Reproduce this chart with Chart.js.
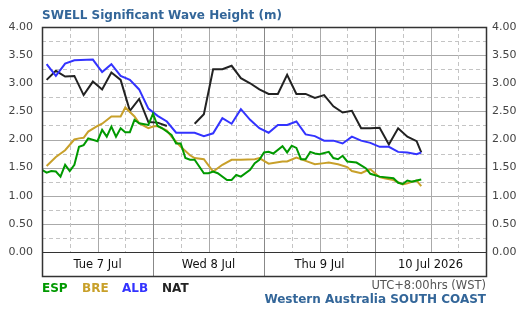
<!DOCTYPE html>
<html>
<head>
<meta charset="utf-8">
<script src="https://cdn.jsdelivr.net/npm/chart.js@4"></script>
<style>
  html, body { margin: 0; padding: 0; background: #fff; }
  #wrap { width: 521px; height: 315px; }
</style>
</head>
<body>
<div id="wrap"><canvas id="chart" width="521" height="315"></canvas></div>
<script>
'use strict';

// hours since Tue 7 Jul 00:00 (WST)
const dayLabels = ['Tue 7 Jul', 'Wed 8 Jul', 'Thu 9 Jul', '10 Jul 2026'];
const yTicks = [0, 0.5, 1, 1.5, 2, 2.5, 3, 3.5, 4];

const espHours = [0, 1, 2, 3, 4, 5, 6, 7, 8, 9, 10, 12, 13, 14, 15, 16, 17, 18, 19, 20, 21, 23, 24, 25, 26, 28, 29, 30, 31, 32, 33, 35, 36, 37, 38, 40, 41, 42, 43, 45, 46, 47, 48, 49, 50, 52, 53, 54, 55, 56, 57, 58, 59, 60, 62, 63, 64, 65, 66, 68, 70, 71, 73, 76, 77, 78, 79, 80, 81, 82];
const espValues = [1.46, 1.41, 1.44, 1.43, 1.34, 1.55, 1.44, 1.55, 1.87, 1.90, 2.02, 1.97, 2.17, 2.05, 2.23, 2.05, 2.20, 2.13, 2.13, 2.35, 2.29, 2.26, 2.46, 2.24, 2.20, 2.08, 1.93, 1.93, 1.67, 1.64, 1.64, 1.40, 1.40, 1.43, 1.40, 1.28, 1.28, 1.37, 1.34, 1.46, 1.58, 1.64, 1.77, 1.78, 1.75, 1.88, 1.77, 1.89, 1.85, 1.65, 1.65, 1.78, 1.75, 1.74, 1.78, 1.67, 1.65, 1.71, 1.61, 1.59, 1.49, 1.39, 1.34, 1.31, 1.23, 1.21, 1.27, 1.25, 1.27, 1.29];

const breHours = [1, 3, 5, 7, 8, 9, 10, 12, 13, 15, 17, 18, 20, 21, 23, 24, 25, 27, 28, 30, 32, 33, 35, 37, 39, 41, 43, 46, 47, 48, 49, 52, 53, 55, 57, 59, 61, 62, 64, 66, 67, 69, 70, 71, 72, 73, 74, 76, 78, 79, 80, 81, 82];
const breValues = [1.53, 1.69, 1.81, 2.00, 2.02, 2.03, 2.14, 2.24, 2.28, 2.41, 2.41, 2.57, 2.41, 2.29, 2.20, 2.23, 2.24, 2.16, 2.05, 1.87, 1.72, 1.67, 1.65, 1.43, 1.55, 1.64, 1.64, 1.65, 1.67, 1.62, 1.57, 1.61, 1.61, 1.68, 1.62, 1.56, 1.58, 1.59, 1.56, 1.51, 1.44, 1.40, 1.44, 1.47, 1.40, 1.33, 1.31, 1.28, 1.20, 1.22, 1.25, 1.27, 1.17];

const albHours = [1, 3, 5, 7, 11, 13, 15, 17, 19, 21, 23, 25, 27, 29, 33, 35, 37, 39, 41, 43, 45, 47, 49, 51, 53, 55, 57, 59, 61, 63, 65, 67, 69, 71, 73, 75, 77, 79, 81, 82];
const albValues = [3.34, 3.13, 3.35, 3.41, 3.42, 3.20, 3.34, 3.13, 3.06, 2.89, 2.55, 2.42, 2.32, 2.12, 2.12, 2.06, 2.11, 2.38, 2.28, 2.54, 2.35, 2.20, 2.12, 2.26, 2.26, 2.32, 2.09, 2.06, 1.98, 1.98, 1.93, 2.05, 1.98, 1.94, 1.87, 1.87, 1.78, 1.77, 1.74, 1.77];

const natHours = [1, 3, 5, 7, 9, 11, 13, 15, 17, 19, 21, 23, 25, 27, 30, 33, 35, 37, 39, 41, 43, 45, 47, 49, 51, 53, 55, 57, 59, 61, 63, 65, 67, 69, 71, 73, 75, 77, 79, 81, 82];
const natValues = [3.06, 3.22, 3.12, 3.13, 2.79, 3.03, 2.89, 3.19, 3.06, 2.51, 2.72, 2.31, 2.30, 2.24, null, 2.28, 2.45, 3.25, 3.25, 3.31, 3.09, 3.00, 2.89, 2.81, 2.81, 3.15, 2.81, 2.81, 2.74, 2.79, 2.59, 2.48, 2.51, 2.20, 2.20, 2.21, 1.91, 2.20, 2.05, 1.97, 1.77];

const seriesNames = ['ESP', 'BRE', 'ALB', 'NAT'];
const seriesColors = ['#009900', '#c8a02a', '#3333ff', '#222222'];

const FONT = '"DejaVu Sans", Verdana, sans-serif';

function pts(hours, values) {
  return hours.map((h, i) => ({ x: h, y: values[i] }));
}

// grid, day labels, title and footer text
const decor = {
  id: 'decor',
  beforeDatasetsDraw(chart) {
    const { ctx, chartArea: a, scales: { x, y } } = chart;
    const y0 = y.getPixelForValue(0);
    ctx.save();
    ctx.lineWidth = 1;
    // horizontal grid
    for (let v = 0.25; v < 4; v += 0.25) {
      const py = Math.round(y.getPixelForValue(v)) + 0.5;
      const solid = Math.abs(v * 2 - Math.round(v * 2)) < 1e-6;
      ctx.strokeStyle = solid ? '#aaaaaa' : '#c4c4c4';
      ctx.setLineDash(solid ? [] : [4, 3]);
      ctx.beginPath();
      ctx.moveTo(a.left, py);
      ctx.lineTo(a.right, py);
      ctx.stroke();
    }
    // vertical grid every 6 hours
    for (let h = 6; h < 96; h += 6) {
      const px = Math.round(x.getPixelForValue(h)) + 0.5;
      if (h % 24 === 0) {
        ctx.strokeStyle = '#888888';
        ctx.setLineDash([]);
        ctx.beginPath();
        ctx.moveTo(px, a.top);
        ctx.lineTo(px, a.bottom);
        ctx.stroke();
      } else {
        ctx.strokeStyle = h % 12 === 0 ? '#aaaaaa' : '#c4c4c4';
        ctx.setLineDash(h % 12 === 0 ? [] : [4, 3]);
        ctx.beginPath();
        ctx.moveTo(px, a.top);
        ctx.lineTo(px, y0);
        ctx.stroke();
      }
    }
    ctx.setLineDash([]);
    // zero line
    ctx.strokeStyle = '#333333';
    ctx.beginPath();
    ctx.moveTo(a.left, Math.round(y0) + 0.5);
    ctx.lineTo(a.right, Math.round(y0) + 0.5);
    ctx.stroke();
    ctx.restore();
  },
  afterDraw(chart) {
    const { ctx, chartArea: a, scales: { x, y } } = chart;
    const y0 = y.getPixelForValue(0);
    ctx.save();
    // frame
    ctx.strokeStyle = '#333333';
    ctx.lineWidth = 1.5;
    ctx.strokeRect(Math.round(a.left) + 0.5, Math.round(a.top) + 0.5,
      Math.round(a.right - a.left), Math.round(a.bottom - a.top));
    // day labels
    ctx.fillStyle = '#111111';
    ctx.font = '11.5px ' + FONT;
    ctx.textAlign = 'center';
    ctx.textBaseline = 'middle';
    dayLabels.forEach((t, i) => {
      ctx.fillText(t, x.getPixelForValue(i * 24 + 12), (y0 + a.bottom) / 2 + 1);
    });
    // title
    ctx.textAlign = 'left';
    ctx.fillStyle = '#336699';
    ctx.font = 'bold 12px ' + FONT;
    ctx.fillText('SWELL Significant Wave Height (m)', a.left, 16);
    // legend
    ctx.font = 'bold 12px ' + FONT;
    const lx = [42, 82, 122, 162];
    seriesNames.forEach((n, i) => {
      ctx.fillStyle = seriesColors[i];
      ctx.fillText(n, lx[i], 289);
    });
    // footer
    ctx.textAlign = 'right';
    ctx.fillStyle = '#555555';
    ctx.font = '11.5px ' + FONT;
    ctx.fillText('UTC+8:00hrs (WST)', a.right, 286);
    ctx.fillStyle = '#336699';
    ctx.font = 'bold 12px ' + FONT;
    ctx.fillText('Western Australia SOUTH COAST', a.right, 300);
    ctx.restore();
  }
};

function yAxis(position, width, padding) {
  return {
    type: 'linear',
    position: position,
    min: -24 / 56.25,
    max: 4,
    afterBuildTicks: s => { s.ticks = yTicks.map(v => ({ value: v })); },
    afterFit: s => { s.width = width; },
    grid: { display: false, drawTicks: false },
    border: { display: false },
    ticks: {
      padding: padding,
      color: '#444444',
      font: { family: FONT, size: 11 },
      callback: v => v.toFixed(2)
    }
  };
}

const ctx = document.getElementById('chart').getContext('2d');
const chart = new Chart(ctx, {
  type: 'line',
  data: {
    datasets: [
      { label: 'ESP', data: pts(espHours, espValues) },
      { label: 'BRE', data: pts(breHours, breValues) },
      { label: 'ALB', data: pts(albHours, albValues) },
      { label: 'NAT', data: pts(natHours, natValues) }
    ].map((d, i) => Object.assign(d, {
      borderColor: seriesColors[i],
      backgroundColor: seriesColors[i],
      borderWidth: 2,
      pointRadius: 0,
      tension: 0,
      spanGaps: false
    }))
  },
  options: {
    responsive: false,
    animation: false,
    layout: { padding: { top: 27, bottom: 39, left: 0, right: 0 } },
    plugins: { legend: { display: false }, tooltip: { enabled: false } },
    scales: {
      x: { type: 'linear', min: 0, max: 96, display: false },
      y: yAxis('left', 42, 9),
      y2: yAxis('right', 35, 6)
    }
  },
  plugins: [decor]
});
</script>
</body>
</html>
